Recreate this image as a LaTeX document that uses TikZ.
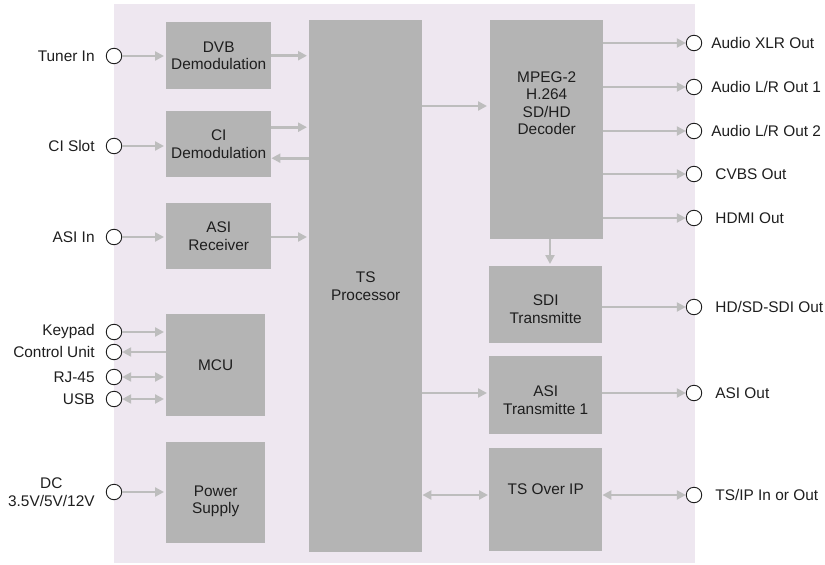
\documentclass[tikz,border=0pt]{standalone}
\usepackage{fontspec}
\setmainfont{Liberation Sans}
\usetikzlibrary{arrows.meta}
\definecolor{panel}{HTML}{EEE7F0}
\definecolor{boxgray}{HTML}{B4B4B4}
\definecolor{arrgray}{HTML}{BDBDBD}
\definecolor{txt}{HTML}{1E1E1E}
\begin{document}
\begin{tikzpicture}[x=1pt,y=-1pt,
 box/.style={draw=none, fill=boxgray, anchor=north west, inner sep=0pt, align=center, font=\fontsize{15.4}{17.5}\selectfont, text=txt},
 port/.style={circle, draw=txt, fill=white, line width=0.9pt, minimum size=15.5pt, inner sep=0pt},
 lbl/.style={font=\fontsize{15.4}{17.5}\selectfont, text=txt, inner sep=0pt, align=center},
 arr/.style={draw=arrgray, line width=2.6pt, -{Triangle[length=9pt,width=9pt]}},
 barr/.style={draw=arrgray, line width=2.6pt, {Triangle[length=9pt,width=9pt]}-{Triangle[length=9pt,width=9pt]}},
 ]
\useasboundingbox (0,0) rectangle (825,565);
\fill[panel] (114,4) rectangle (695,563);

% boxes
\node[box, minimum width=105pt, minimum height=67pt] (dvb) at (166,22) {DVB\\Demodulation};
\node[box, minimum width=105pt, minimum height=66pt] (ci) at (166,111) {CI\\Demodulation};
\node[box, minimum width=105pt, minimum height=66pt] (asir) at (166,203) {ASI\\Receiver};
\node[box, minimum width=113pt, minimum height=532pt] (ts) at (309,20) {TS\\Processor};
\node[box, minimum width=99pt, minimum height=102pt] (mcu) at (166,314) {MCU};
\node[box, minimum width=99pt, minimum height=101pt,
  label={[lbl, yshift=-8.5pt]center:Power\\Supply}] (pwr) at (166,442) {};
\node[box, minimum width=113pt, minimum height=219pt,
  label={[lbl, yshift=26.5pt]center:MPEG-2\\H.264\\SD/HD\\Decoder}] (mpeg) at (490,20) {};
\node[box, minimum width=113pt, minimum height=77pt,
  label={[lbl, yshift=-4.5pt]center:SDI\\Transmitte}] (sdi) at (489,266) {};
\node[box, minimum width=113pt, minimum height=78pt,
  label={[lbl, yshift=-5pt]center:ASI\\Transmitte 1}] (asit) at (489,356) {};
\node[box, minimum width=113pt, minimum height=103pt,
  label={[lbl, yshift=10.5pt]center:TS Over IP}] (tsip) at (489,448) {};

% left ports
\node[port, label={[lbl, label distance=11pt]left:Tuner In}] (tuner) at (114,56) {};
\node[port, label={[lbl, label distance=11pt]left:CI Slot}] (cislot) at (114,146) {};
\node[port, label={[lbl, label distance=11pt]left:ASI In}] (asiin) at (114,237) {};
\node[port, label={[lbl, label distance=11pt]left:Keypad}] (keypad) at (114,332) {};
\node[port, label={[lbl, label distance=11pt]left:Control Unit}] (ctrl) at (114,352) {};
\node[port, label={[lbl, label distance=11pt]left:RJ-45}] (rj) at (114,377) {};
\node[port, label={[lbl, label distance=11pt]left:USB}] (usb) at (114,399) {};
\node[port, label={[lbl, label distance=11pt]left:DC\\3.5V/5V/12V}] (dc) at (114,492) {};

% right ports
\node[port, label={[lbl, label distance=9pt]right:Audio XLR Out}] (xlr) at (694,43) {};
\node[port, label={[lbl, label distance=9pt]right:Audio L/R Out 1}] (lr1) at (694,87) {};
\node[port, label={[lbl, label distance=9pt]right:Audio L/R Out 2}] (lr2) at (694,131) {};
\node[port, label={[lbl, label distance=13pt]right:CVBS Out}] (cvbs) at (694,174) {};
\node[port, label={[lbl, label distance=13pt]right:HDMI Out}] (hdmi) at (694,218) {};
\node[port, label={[lbl, label distance=13pt]right:HD/SD-SDI Out}] (sdiout) at (694,307) {};
\node[port, label={[lbl, label distance=13pt]right:ASI Out}] (asiout) at (694,393) {};
\node[port, label={[lbl, label distance=13pt]right:TS/IP In or Out}] (tsipout) at (694,495) {};

% left inputs
\draw[arr, shorten >=2pt] (tuner.east) -- (tuner.east -| dvb.west);
\draw[arr, shorten >=2pt] (cislot.east) -- (cislot.east -| ci.west);
\draw[arr, shorten >=2pt] (asiin.east) -- (asiin.east -| asir.west);
\draw[arr, shorten >=2pt] (keypad.east) -- (keypad.east -| mcu.west);
\draw[arr] (ctrl.east -| mcu.west) -- (ctrl.east);
\draw[barr, shorten >=2pt] (rj.east) -- (rj.east -| mcu.west);
\draw[barr, shorten >=2pt] (usb.east) -- (usb.east -| mcu.west);
\draw[arr, shorten >=2pt] (dc.east) -- (dc.east -| pwr.west);

% to TS processor
\draw[arr, shorten >=2pt] (dvb.east) -- (dvb.east -| ts.west);
\draw[arr, shorten >=2pt] ([yshift=17pt]ci.east) -- ([yshift=17pt]ci.east -| ts.west);
\draw[arr] ([yshift=-14pt]ci.east -| ts.west) -- ([yshift=-14pt]ci.east);
\draw[arr, shorten >=2pt] (asir.east |- asiin) -- (asiin -| ts.west);

% from TS processor
\coordinate (tsm) at (422,106);
\draw[arr, shorten >=3pt] (tsm) -- (tsm -| mpeg.west);
\draw[arr, shorten >=2pt] (ts.east |- asiout) -- (asiout -| asit.west);
\draw[barr, shorten >=1pt] (ts.east |- tsipout) -- (tsipout -| tsip.west);
\draw[arr, shorten >=2pt] (mpeg.south -| 550,0) -- (sdi.north -| 550,0);

% outputs
\draw[arr] (xlr.west -| mpeg.east) -- (xlr.west);
\draw[arr] (lr1.west -| mpeg.east) -- (lr1.west);
\draw[arr] (lr2.west -| mpeg.east) -- (lr2.west);
\draw[arr] (cvbs.west -| mpeg.east) -- (cvbs.west);
\draw[arr] (hdmi.west -| mpeg.east) -- (hdmi.west);
\draw[arr] (sdiout.west -| sdi.east) -- (sdiout.west);
\draw[arr] (asiout.west -| asit.east) -- (asiout.west);
\draw[barr] (tsipout.west -| tsip.east) -- (tsipout.west);
\end{tikzpicture}
\end{document}
